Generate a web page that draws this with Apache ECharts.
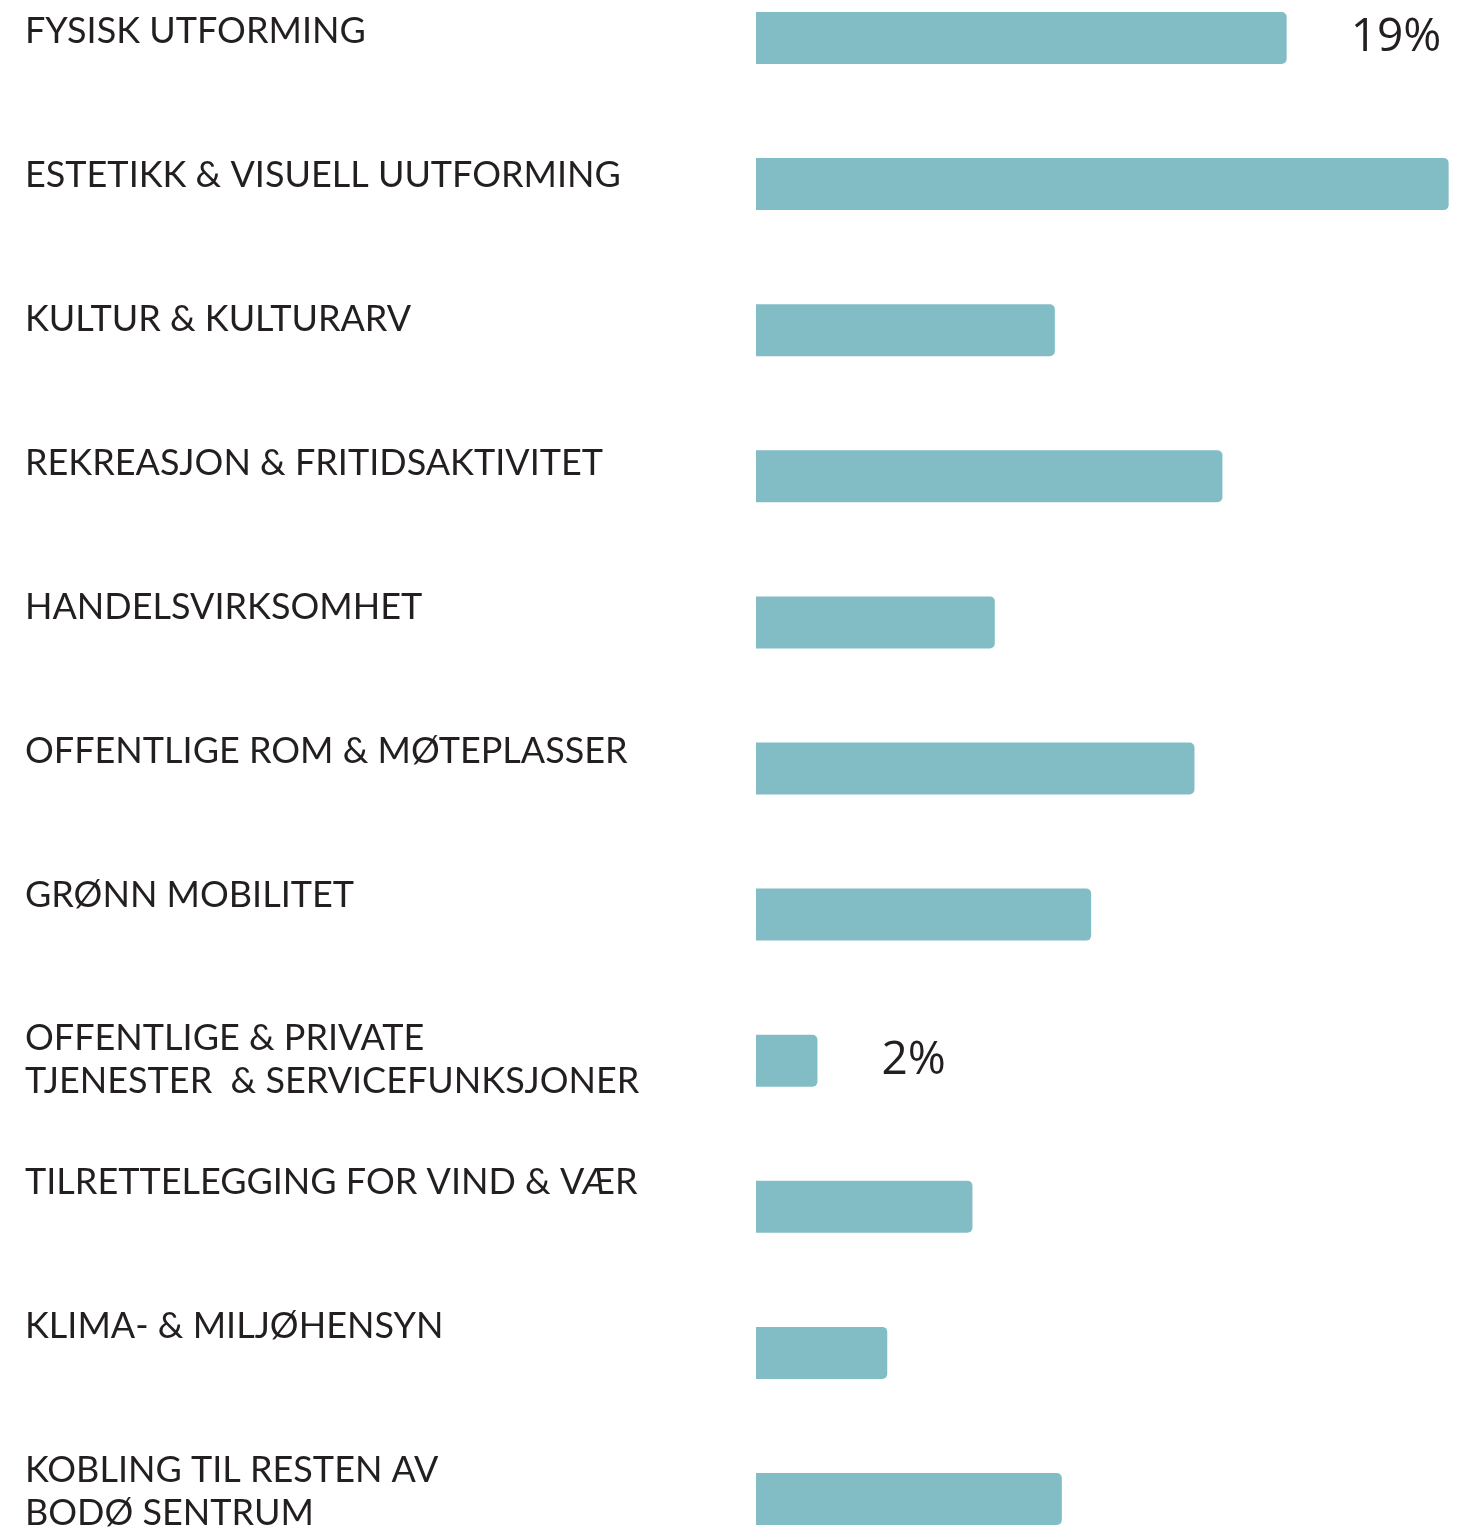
<!DOCTYPE html>
<html>
<head>
<meta charset="utf-8">
<title>Tema</title>
<script src="https://cdn.jsdelivr.net/npm/echarts@6/dist/echarts.min.js"></script>
<style>
  html, body { margin: 0; padding: 0; background: #fff; }
  #chart { width: 1471px; height: 1535px; }
</style>
</head>
<body>
<div id="chart"></div>
<script>
const categories = [
  'FYSISK UTFORMING',
  'ESTETIKK & VISUELL UUTFORMING',
  'KULTUR & KULTURARV',
  'REKREASJON & FRITIDSAKTIVITET',
  'HANDELSVIRKSOMHET',
  'OFFENTLIGE ROM & MØTEPLASSER',
  'GRØNN MOBILITET',
  'OFFENTLIGE & PRIVATE\nTJENESTER  & SERVICEFUNKSJONER',
  'TILRETTELEGGING FOR VIND & VÆR',
  'KLIMA- & MILJØHENSYN',
  'KOBLING TIL RESTEN AV\nBODØ SENTRUM'
]
// share of answers, in percent
const values = [19, 24.8, 10.7, 16.7, 8.55, 15.7, 12.0, 2.2, 7.75, 4.7, 10.95]
// only two bars carry a printed value
const valueLabels = ['19%', '', '', '', '', '', '', '2%', '', '', '']

const chart = echarts.init(document.getElementById('chart'))

const option = {
  animation: false,
  grid: [
    // bars
    { left: 756, right: 0, top: 38, bottom: 36 },
    // category texts, shifted up so the first line sits above the bar centre
    { left: 756, right: 0, top: 10, bottom: 64 }
  ],
  xAxis: [
    { gridIndex: 0, type: 'value', min: 0, max: 25.6, show: false },
    { gridIndex: 1, type: 'value', min: 0, max: 1, show: false }
  ],
  yAxis: [
    {
      gridIndex: 0,
      type: 'category',
      data: categories,
      inverse: true,
      boundaryGap: false,
      show: false
    },
    {
      gridIndex: 1,
      type: 'category',
      data: categories,
      inverse: true,
      boundaryGap: false,
      axisLine: { show: false },
      axisTick: { show: false },
      splitLine: { show: false },
      axisLabel: {
        interval: 0,
        align: 'left',
        verticalAlign: 'top',
        margin: 731,
        color: '#231f20',
        fontFamily: 'Lato',
        fontSize: 36,
        lineHeight: 43
      }
    }
  ],
  series: [
    {
      type: 'bar',
      xAxisIndex: 0,
      yAxisIndex: 0,
      data: values,
      barWidth: 52,
      clip: false,
      itemStyle: {
        color: '#82bdc6',
        borderRadius: [0, 5, 5, 0]
      },
      label: {
        show: true,
        position: 'right',
        distance: 64,
        color: '#231f20',
        fontFamily: 'Open Sans',
        fontSize: 46,
        formatter: function (p) {
          return valueLabels[p.dataIndex]
        }
      }
    }
  ]
}

chart.setOption(option)
</script>
</body>
</html>
